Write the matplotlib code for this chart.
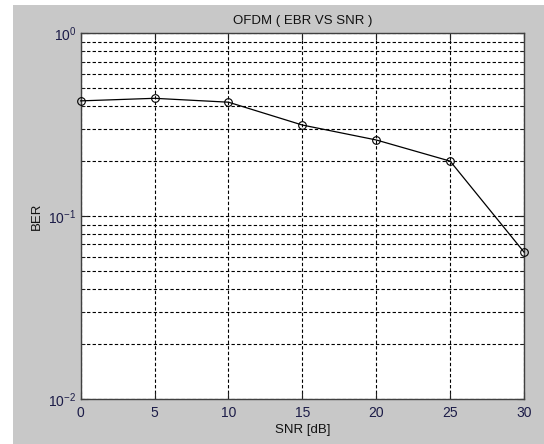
import matplotlib
matplotlib.use("Agg")
import matplotlib.pyplot as plt
from matplotlib.patches import Rectangle
from matplotlib.ticker import LogLocator, FixedLocator, NullFormatter

plt.rcParams['font.family'] = ['Liberation Sans', 'DejaVu Sans']
plt.rcParams['mathtext.default'] = 'regular'

snr_db = [0, 5, 10, 15, 20, 25, 30]
ber = [0.427, 0.441, 0.420, 0.315, 0.261, 0.200, 0.0636]
x_ticks = [0, 5, 10, 15, 20, 25, 30]

W, H = 544, 444
fig = plt.figure(figsize=(W/100, H/100), dpi=100)
fig.patch.set_facecolor('white')
bg = Rectangle((12.7/W, 0), 1 - 12.7/W, 1 - 5/H, transform=fig.transFigure,
               facecolor='#c8c8c8', edgecolor='none', zorder=-10)
fig.add_artist(bg)

ax = fig.add_axes([80.7/W, 1 - 399/H, (524 - 80.7)/W, (399 - 33.3)/H])
ax.set_zorder(5)
ax.set_facecolor('white')
ax.set_yscale('log')
ax.set_xlim(0, 30)
ax.set_ylim(1e-2, 1)

ax.plot(snr_db, ber, color='black', lw=0.9, marker='o', markersize=5.5,
        markerfacecolor='none', markeredgecolor='black', markeredgewidth=0.8,
        zorder=5, clip_on=False)

ax.xaxis.set_major_locator(FixedLocator(x_ticks))
ax.yaxis.set_major_locator(LogLocator(base=10, numticks=5))
ax.yaxis.set_minor_locator(LogLocator(base=10, subs=range(2, 10), numticks=20))
ax.yaxis.set_minor_formatter(NullFormatter())

ax.grid(True, which='major', axis='both', color='black', linestyle=(0, (3, 2)), lw=0.8)
ax.grid(True, which='minor', axis='y', color='black', linestyle=(0, (3, 2)), lw=0.8)

ax.tick_params(axis='both', which='both', direction='in', top=True, right=True,
               labelsize=10, colors='#222222', labelcolor='#1c1c48')
ax.tick_params(which='major', length=5, width=0.8)
ax.tick_params(which='minor', length=3, width=0.6)
ax.tick_params(axis='x', pad=5)
ax.tick_params(axis='y', pad=3)

for s in ax.spines.values():
    s.set_color('#404040')
    s.set_linewidth(1.0)

ax.set_title('OFDM ( EBR VS SNR )', fontsize=9.5, pad=7, color='#111111')
ax.set_xlabel('SNR [dB]', fontsize=9.5, labelpad=3, color='#111111')
ax.set_ylabel('BER', fontsize=9.5, labelpad=4, color='#111111')

fig.savefig('out.png', dpi=100, facecolor=fig.get_facecolor())
